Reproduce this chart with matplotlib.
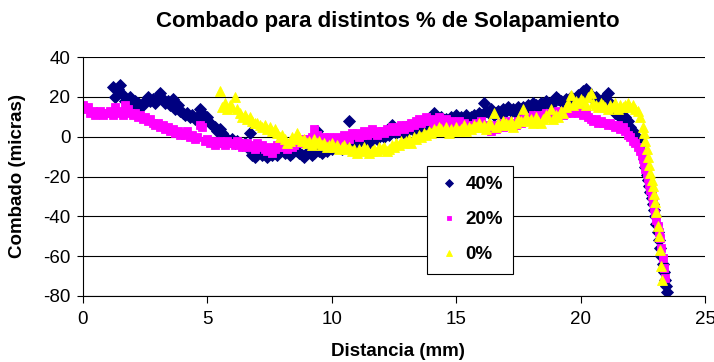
import numpy as np
import matplotlib
matplotlib.use("Agg")
import matplotlib.pyplot as plt

plt.rcParams['font.family'] = ['Liberation Sans', 'DejaVu Sans']
plt.rcParams['axes.unicode_minus'] = False

# --- data ---
# 40% series: sampled every 0.1 mm starting at 1.2 mm
x40_start = 1.2
y40_main = [
    25, 20, 24, 26, 21, 18, 17, 20, 16, 18,
    17, 15, 16, 18, 20, 18, 19, 17, 20, 22,
    19, 17, 18, 16, 19, 14, 16, 13, 12, 11,
    12, 10, 11, 9, 10, 14, 12, 9, 10, 7,
    6, 5, 3, 4, 2, 0, -1, -2, -1, -3,
    -2, -3, -4, -3, -5, 2, -9, -10, -8, -7,
    -9, -8, -10, -7, -9, -8, -9, -7, -6, -8,
    -7, -9, -8, -6, -7, -8, -9, -10, -8, -7,
    -9, -8, 3, -7, -8, -6, -7, -5, -6, -4,
    -5, -4, -6, -3, -4, 8, -2, -4, -3, -1,
    -2, 0, -1, -3, 1, 0, -1, 2, 1, 0,
    2, 1, 6, 3, 2, 3, 4, 2, 5, 4,
    5, 3, 6, 5, 4, 7, 6, 8, 7, 12,
    9, 8, 10, 7, 9, 8, 10, 9, 11, 9,
    10, 8, 11, 9, 10, 11, 10, 12, 11, 17,
    13, 12, 14, 11, 12, 13, 12, 14, 13, 15,
    13, 14, 12, 15, 14, 15, 14, 16, 15, 17,
    16, 15, 17, 16, 18, 17, 16, 18, 20, 19,
    18, 17, 19, 18, 20, 19, 18, 21, 20, 23,
    24, 22, 21, 19, 20, 18, 17, 19, 20, 22,
    17, 14, 12, 11, 10, 9, 10, 8, 5,
]
x40_tail = [22.1, 22.2, 22.3, 22.4, 22.5, 22.55, 22.6, 22.65, 22.7, 22.75,
            22.8, 22.85, 22.9, 22.95, 23.0, 23.05, 23.1, 23.15, 23.2, 23.25,
            23.3, 23.35, 23.4, 23.45, 23.48]
y40_tail = [3, 1, -1, -4, -8, -11, -15, -19, -22, -25,
            -28, -31, -34, -37, -40, -44, -48, -52, -56, -60,
            -64, -68, -72, -75, -78]

# 20% series: sampled every 0.1 mm starting at 0 mm
x20_start = 0.0
y20_main = [
    16, 14, 15, 12, 13, 11, 12, 13, 11, 12,
    12, 13, 11, 15, 12, 13, 11, 16, 14, 12,
    11, 12, 10, 11, 9, 10, 8, 9, 7, 6,
    7, 5, 6, 4, 5, 3, 4, 2, 3, 1,
    2, 1, 3, 0, 1, -1, 0, 6, 5, -2,
    -1, -3, -2, -4, -3, -2, -3, -4, -2, -3,
    -3, -4, -2, -3, -5, -4, -3, -5, -4, -6,
    -3, -5, -4, -6, -7, -5, -8, -6, -4, -5,
    -5, -4, -6, -3, -5, -4, -2, -3, -1, -2,
    -3, -1, 0, 4, 1, -2, -1, 0, -2, 0,
    -1, -3, 0, -2, -1, 1, 0, -1, 2, 1,
    2, 0, 1, 3, 1, 2, 4, 2, 1, 3,
    3, 2, 4, 3, 5, 4, 3, 5, 6, 4,
    6, 5, 7, 6, 8, 9, 7, 8, 10, 8,
    9, 7, 8, 10, 8, 7, 9, 6, 8, 7,
    6, 8, 5, 7, 6, 4, 6, 5, 7, 6,
    8, 5, 4, 6, 3, 5, 4, 6, 7, 5,
    6, 8, 7, 5, 6, 8, 7, 9, 8, 10,
    9, 11, 10, 9, 11, 10, 12, 11, 10, 12,
    11, 13, 12, 11, 12, 13, 12, 14, 13, 12,
    14, 11, 12, 10, 9, 8, 9, 7, 8, 7,
    7, 6, 7, 6, 5, 6, 4, 5, 3, 1,
    0,
]
x20_tail = [22.1, 22.2, 22.3, 22.4, 22.45, 22.5, 22.55, 22.6, 22.65, 22.7,
            22.75, 22.8, 22.85, 22.9, 22.95, 23.0, 23.05, 23.1, 23.15, 23.2,
            23.25, 23.3, 23.35, 23.4]
y20_tail = [-2, -3, -5, -7, -9, -11, -13, -16, -18, -21,
            -24, -27, -30, -33, -36, -39, -42, -45, -48, -51,
            -56, -61, -66, -71]

# 0% series: sampled every 0.1 mm starting at 5.5 mm
x0_start = 5.5
y0_main = [
    23, 15, 17, 14, 16,
    15, 20, 14, 12, 10, 11, 9, 10, 8, 7,
    7, 6, 5, 6, 4, 5, 3, 4, 2, 0,
    1, -1, -3, -2, 0, -1, 2, 0, -2, -1,
    -3, -2, -4, -1, -3, -2, -4, -3, -5, -4,
    -3, -5, -4, -6, -5, -4, -6, -5, -7, -6,
    -8, -6, -7, -5, -6, -8, -7, -6, -7, -5,
    -6, -5, -7, -6, -4, -5, -3, -4, -2, -3,
    -2, -1, -3, 0, -1, 1, 0, 2, 1, 3,
    2, 4, 3, 5, 4, 3, 5, 2, 4, 3,
    5, 3, 4, 6, 3, 5, 4, 6, 5, 7,
    5, 6, 4, 7, 6, 12, 5, 7, 6, 8,
    7, 6, 8, 5, 7, 9, 8, 14, 10, 8,
    9, 7, 10, 8, 7, 9, 11, 10, 14, 9,
    11, 10, 13, 12, 15, 17, 21, 16, 18, 17,
    19, 18, 16, 20, 22, 17, 16, 15, 17, 16,
    15, 14, 16, 15, 17, 14, 16, 15, 16, 17,
    15, 16, 14,
]
x0_tail = [22.3, 22.4, 22.5, 22.55, 22.6, 22.65, 22.7, 22.75, 22.8, 22.85,
           22.9, 22.95, 23.0, 23.05, 23.1, 23.15, 23.2, 23.25, 23.28]
y0_tail = [13, 10, 5, 2, -2, -6, -10, -14, -18, -22,
           -25, -29, -33, -38, -45, -50, -57, -65, -72]

series_labels = ['40%', '20%', '0%']
x_ticks = [0, 5, 10, 15, 20, 25]
y_ticks = [-80, -60, -40, -20, 0, 20, 40]


def full_series(x_start, y_main, x_tail, y_tail):
    x = list(np.round(x_start + 0.1 * np.arange(len(y_main)), 2)) + list(x_tail)
    return x, list(y_main) + list(y_tail)


x40, y40 = full_series(x40_start, y40_main, x40_tail, y40_tail)
x20, y20 = full_series(x20_start, y20_main, x20_tail, y20_tail)
x0, y0 = full_series(x0_start, y0_main, x0_tail, y0_tail)

fig = plt.figure(figsize=(7.14, 3.62), dpi=100)
ax = fig.add_axes([83 / 714, 1 - 296 / 362, 622 / 714, 239 / 362])

ax.plot(x40, y40, linestyle='none', marker='D', markersize=5.8, color='#000080',
        markeredgewidth=0.6, label=series_labels[0])
ax.plot(x20, y20, linestyle='none', marker='s', markersize=5.4, color='#FF00FF',
        markeredgewidth=0.6, label=series_labels[1])
ax.plot(x0, y0, linestyle='none', marker='^', markersize=6.6, color='#FFFF00',
        markeredgewidth=0.6, label=series_labels[2])

ax.set_xlim(0, 25)
ax.set_ylim(-80, 40)
ax.set_xticks(x_ticks)
ax.set_yticks(y_ticks)
ax.tick_params(axis='both', direction='out', labelsize=13.5, width=0.8, color='black')
ax.tick_params(axis='x', length=5, pad=6)
ax.tick_params(axis='y', length=4, pad=5)

ax.yaxis.grid(True, color='black', linewidth=0.8)
ax.set_axisbelow(True)
for side in ['top', 'right']:
    ax.spines[side].set_visible(False)
for side in ['left', 'bottom']:
    ax.spines[side].set_linewidth(0.8)

leg = ax.legend(loc='upper left', bbox_to_anchor=(0.553, 0.544), borderaxespad=0,
                frameon=True, fancybox=False, edgecolor='black', framealpha=1,
                prop={'size': 13.5, 'weight': 'bold'}, handlelength=1.2,
                handletextpad=0.3, labelspacing=0.95, borderpad=0.55, markerscale=0.65)
leg.get_frame().set_linewidth(0.8)

fig.text(388 / 714, 1 - 21 / 362, 'Combado para distintos % de Solapamiento',
         ha='center', va='center', fontsize=16, fontweight='bold')
fig.text(18 / 714, 1 - 176 / 362, 'Combado (micras)', rotation=90,
         ha='center', va='center', fontsize=13.5, fontweight='bold')
fig.text(398 / 714, 1 - 352 / 362, 'Distancia (mm)',
         ha='center', va='center', fontsize=13.5, fontweight='bold')

fig.savefig('out.png', dpi=100)
